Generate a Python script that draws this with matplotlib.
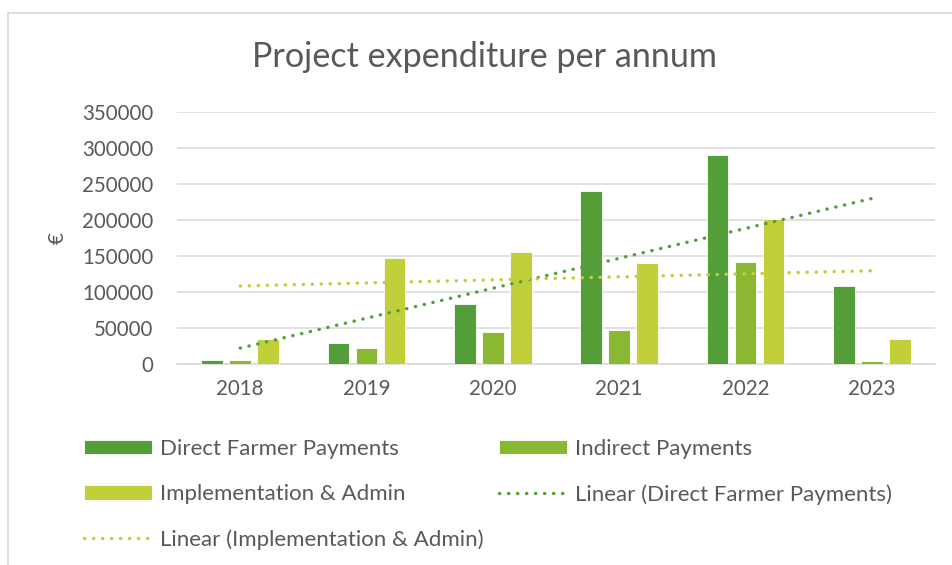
import numpy as np
import matplotlib
matplotlib.use("Agg")
import matplotlib.pyplot as plt
from matplotlib.lines import Line2D

# Data
years = ["2018", "2019", "2020", "2021", "2022", "2023"]
direct_farmer = [5500, 28700, 83300, 240000, 290000, 108300]
indirect = [5500, 22200, 44000, 46800, 141200, 4200]
impl_admin = [35000, 146800, 155600, 139800, 201900, 34700]
yticks = [0, 50000, 100000, 150000, 200000, 250000, 300000, 350000]

c_direct = "#549E39"
c_indirect = "#8AB833"
c_impl = "#C0CF3A"
txt = "#595959"
grid_c = "#D9D9D9"

plt.rcParams["font.family"] = ["Lato", "DejaVu Sans"]

fig = plt.figure(figsize=(9.53, 5.65), dpi=100)
ax = fig.add_axes([177 / 953, 1 - 364 / 565, (935 - 177) / 953, (364 - 112) / 565])

x = np.arange(len(years))
w = 0.174
step = 0.2216
b1 = ax.bar(x - step, direct_farmer, w, color=c_direct, edgecolor="white", linewidth=0.6,
            label="Direct Farmer Payments", zorder=3)
b2 = ax.bar(x, indirect, w, color=c_indirect, edgecolor="white", linewidth=0.6,
            label="Indirect Payments", zorder=3)
b3 = ax.bar(x + step, impl_admin, w, color=c_impl, edgecolor="white", linewidth=0.6,
            label="Implementation & Admin", zorder=3)

# linear trendlines (Excel-style, fitted on category index)
xs = x + 1
fit_d = np.polyfit(xs, direct_farmer, 1)
fit_i = np.polyfit(xs, impl_admin, 1)
dots = (0, (0.1, 2.6))
l1, = ax.plot(x, np.polyval(fit_d, xs), color=c_direct, lw=2.4, linestyle=dots,
              dash_capstyle="round", label="Linear (Direct Farmer Payments)", zorder=4)
l2, = ax.plot(x, np.polyval(fit_i, xs), color=c_impl, lw=2.4, linestyle=dots,
              dash_capstyle="round", label="Linear (Implementation & Admin)", zorder=4)

ax.set_xlim(-0.5, len(years) - 0.5)
ax.set_ylim(0, 350000)
ax.set_yticks(yticks)
ax.set_yticklabels([str(v) for v in yticks])
ax.set_xticks(x)
ax.set_xticklabels(years)
ax.tick_params(axis="both", length=0, labelsize=14.8, colors=txt)
ax.tick_params(axis="y", pad=17)
ax.tick_params(axis="x", pad=11)
ax.grid(axis="y", color=grid_c, linewidth=1.1, zorder=0)
for s in ["top", "right", "left"]:
    ax.spines[s].set_visible(False)
ax.spines["bottom"].set_color(grid_c)
ax.spines["bottom"].set_linewidth(1.1)

ax.set_ylabel("€", fontsize=14.8, color=txt, labelpad=10)
fig.text(485 / 953, 1 - 57 / 565, "Project expenditure per annum", ha="center", va="center",
         fontsize=24.6, color=txt)

# legend: filled row-wise in the reference, so reorder for column-first filling
handles = [b1, b3, l2, b2, l1]
labels = [h.get_label() for h in handles]
leg = fig.legend(handles, labels, ncol=2, loc="upper left",
                 bbox_to_anchor=(84 / 953, 1 - 439 / 565), frameon=False,
                 fontsize=16, labelcolor=txt, handlelength=3.06, handleheight=0.63,
                 handletextpad=0.36, columnspacing=0.7, labelspacing=1.13,
                 borderpad=0, borderaxespad=0)

# outer chart frame (only top and left edges visible in the crop)
fig.add_artist(Line2D([8 / 953, 1], [1 - 13 / 565, 1 - 13 / 565], color=grid_c, lw=1.2))
fig.add_artist(Line2D([8 / 953, 8 / 953], [0, 1 - 13 / 565], color=grid_c, lw=1.2))

fig.savefig("out.png", dpi=100)
